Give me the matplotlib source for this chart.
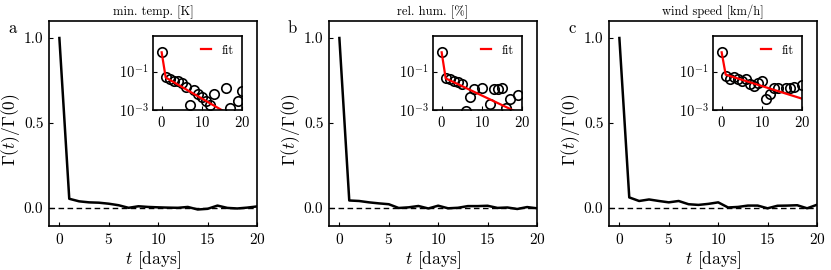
import matplotlib
matplotlib.use('Agg')
import matplotlib.pyplot as plt
import numpy as np

plt.rc('font', family='serif')
plt.rcParams['font.serif'] = ['cmr10', 'DejaVu Serif']
plt.rcParams['mathtext.fontset'] = 'cm'
plt.rcParams['axes.formatter.use_mathtext'] = True
plt.rcParams['axes.unicode_minus'] = False
plt.rcParams['xtick.direction'] = 'in'
plt.rcParams['ytick.direction'] = 'in'

############################################
# Data
lags = [0, 1, 2, 3, 4, 5, 6, 7, 8, 9, 10, 11, 12, 13, 14, 15, 16, 17, 18, 19, 20]

gamma_temp = [1.0, 0.055, 0.040, 0.034, 0.032, 0.026, 0.017, 0.0019, 0.011, 0.007, 0.0047,
              0.003, 0.002, 0.007, -0.008, -0.004, 0.015, 0.0014, -0.002, 0.003, 0.010]
gamma_hum = [1.0, 0.045, 0.042, 0.034, 0.028, 0.023, 0.0009, 0.0047, 0.0126, -0.002, 0.0144,
             -0.001, 0.0021, 0.012, 0.012, 0.014, 0.0013, 0.0039, -0.005, 0.0063, -0.001]
gamma_wind = [1.0, 0.063, 0.042, 0.051, 0.042, 0.034, 0.042, 0.023, 0.019, 0.025, 0.034,
              0.0039, 0.007, 0.015, 0.015, -0.001, 0.014, 0.015, 0.017, -0.001, 0.020]

fit_t = [0, 1, 20]
fit_temp = [1.0, 0.05, 2.5e-4]
fit_hum = [1.0, 0.045, 6e-4]
fit_wind = [1.0, 0.07, 0.004]

titles = ['min. temp. [K]', 'rel. hum. [%]', 'wind speed [km/h]']
letters = ['a', 'b', 'c']
series = [gamma_temp, gamma_hum, gamma_wind]
fits = [fit_temp, fit_hum, fit_wind]

############################################
fig = plt.figure(figsize=(8.31, 2.70), dpi=100)
lefts = [49, 329, 609]

for i in range(3):
  ax = fig.add_axes([lefts[i] / 831., 1 - 226 / 270., 208 / 831., 205 / 270.])
  ax.plot(lags, series[i], color='k', lw=1.8)
  ax.axhline(0, color='k', ls='--', lw=1.0, dashes=(4, 2.5))
  ax.set_xlim(-1.05, 20)
  ax.set_ylim(-0.105, 1.1)
  ax.set_xticks([0, 5, 10, 15, 20])
  ax.set_yticks([0.0, 0.5, 1.0])
  ax.set_yticklabels(['0.0', '0.5', '1.0'])
  ax.tick_params(labelsize=11, length=3, width=0.8, pad=4)
  for s in ax.spines.values():
    s.set_linewidth(1.2)
  ax.set_xlabel(r'$t$ [days]', fontsize=12.5, labelpad=2)
  ax.set_ylabel(r'$\Gamma(t)/\Gamma(0)$', fontsize=12.5)
  ax.yaxis.set_label_coords(-0.13, 0.47)
  ax.set_title(titles[i], fontsize=9, pad=4)
  ax.text(-0.175, 0.965, letters[i], transform=ax.transAxes, fontsize=12,
          ha='center', va='center')

  # inset, log scale
  ins = ax.inset_axes([0.499, 0.564, 0.43, 0.363])
  t = np.array(lags)
  g = np.array(series[i])
  pos = g > 0
  ins.plot(t[pos], g[pos], ls='none', marker='o', ms=6.8, mfc='none', mec='k', mew=1.2)
  ins.plot(fit_t, fits[i], color='r', lw=1.6, label='fit')
  ins.set_yscale('log')
  ins.set_xlim(-2.2, 20)
  ins.set_ylim(1e-3, 7)
  ins.set_xticks([0, 10, 20])
  ins.set_yticks([1e-1, 1e-3])
  ins.minorticks_off()
  ins.tick_params(labelsize=10.5, length=3, width=0.8, pad=3)
  for s in ins.spines.values():
    s.set_linewidth(1.2)
  ins.legend(loc='upper right', fontsize=9, frameon=False, handlelength=0.8,
             handletextpad=0.8, borderaxespad=0.3)

plt.savefig('out.png', dpi=100)
